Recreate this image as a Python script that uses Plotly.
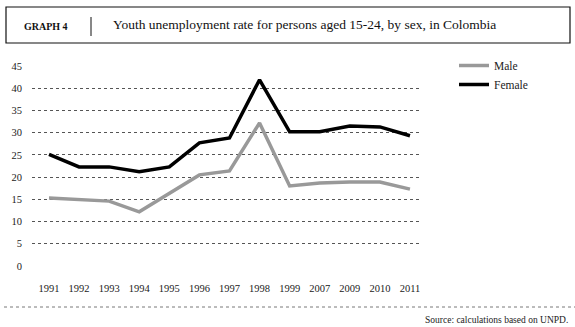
import plotly.graph_objects as go

years = ["1991", "1992", "1993", "1994", "1995", "1996", "1997", "1998", "1999",
         "2007", "2009", "2010", "2011"]
male = [15.3, 15.0, 14.6, 12.2, 16.4, 20.5, 21.4, 32.2, 18.0, 18.7, 18.9, 18.9, 17.3]
female = [25.1, 22.3, 22.3, 21.2, 22.3, 27.7, 28.8, 41.9, 30.2, 30.2, 31.5, 31.3, 29.3]
y_ticks = [0, 5, 10, 15, 20, 25, 30, 35, 40, 45]

FONT = "Liberation Serif, Times New Roman, serif"

# plot area pixels: x 32..422, y 66..266
L, R, T, B = 32, 422, 66, 266
W, H = 575, 327


def px(x):
    return (x - L) / (R - L)


def py(y):
    return (B - y) / (B - T)


fig = go.Figure()
fig.add_trace(go.Scatter(x=years, y=male, name="Male", mode="lines",
                         line=dict(color="#999999", width=3.5)))
fig.add_trace(go.Scatter(x=years, y=female, name="Female", mode="lines",
                         line=dict(color="#000000", width=3.5)))

fig.update_layout(
    width=W, height=H,
    margin=dict(l=L, r=W - R, t=T, b=H - B, pad=0),
    paper_bgcolor="white", plot_bgcolor="white",
    font=dict(family=FONT, size=10.5, color="#222222"),
    showlegend=True,
    legend=dict(x=px(454), y=py(51), xanchor="left", yanchor="top",
                font=dict(family=FONT, size=11.5, color="#222222"),
                bgcolor="rgba(0,0,0,0)", tracegroupgap=0, itemwidth=30),
    xaxis=dict(type="category", range=[-0.565, 12.4], showgrid=False,
               zeroline=False, showline=False, ticks="",
               tickfont=dict(family=FONT, size=10.5, color="#222222"),
               ticklabelstandoff=14),
    yaxis=dict(range=[0, 45], tickvals=y_ticks, showgrid=True,
               gridcolor="#555555", griddash="dot", gridwidth=0.8,
               zeroline=False, showline=False, ticks="",
               tickfont=dict(family=FONT, size=10.5, color="#222222"),
               ticklabelstandoff=9),
)

shapes = [
    dict(type="rect", xref="paper", yref="paper",
         x0=px(6), x1=px(570), y0=py(43), y1=py(7),
         line=dict(color="#111111", width=1.2), fillcolor="rgba(0,0,0,0)"),
    dict(type="line", xref="paper", yref="paper",
         x0=px(91), x1=px(91), y0=py(36), y1=py(17),
         line=dict(color="#111111", width=1)),
    dict(type="line", xref="paper", yref="paper",
         x0=px(4), x1=px(575), y0=py(307), y1=py(307),
         line=dict(color="#555555", width=0.8, dash="dot")),
]
fig.update_layout(shapes=shapes)

fig.add_annotation(text="<b>GRAPH 4</b>", xref="paper", yref="paper",
                   x=px(22), y=py(26), xanchor="left", yanchor="middle",
                   showarrow=False, font=dict(family=FONT, size=10, color="#111111"))
fig.add_annotation(text="Youth unemployment rate for persons aged 15-24, by sex, in Colombia",
                   xref="paper", yref="paper", x=px(111), y=py(25),
                   xanchor="left", yanchor="middle", showarrow=False,
                   font=dict(family=FONT, size=13.5, color="#111111"))
fig.add_annotation(text="Source: calculations based on UNPD.", xref="paper", yref="paper",
                   x=px(570), y=py(320), xanchor="right", yanchor="middle",
                   showarrow=False, font=dict(family=FONT, size=9.5, color="#222222"))

fig.write_html("out.html")
